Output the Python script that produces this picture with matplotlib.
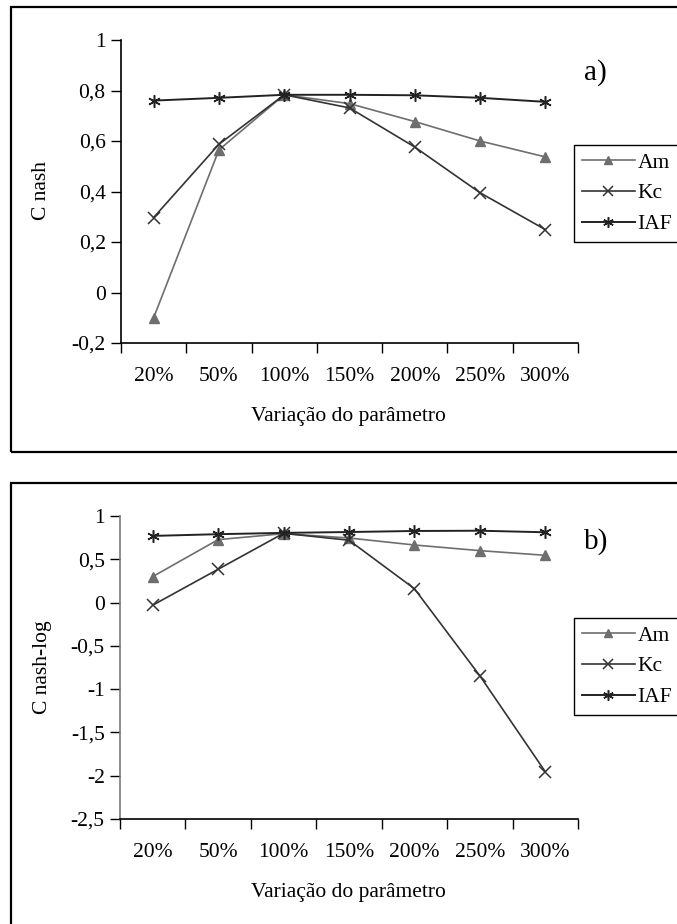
import numpy as np
import matplotlib
matplotlib.use("Agg")
from matplotlib import pyplot as plt
from matplotlib.patches import Rectangle

plt.rcParams['font.family'] = ['Liberation Serif', 'DejaVu Serif']

categorias = ['20%', '50%', '100%', '150%', '200%', '250%', '300%']

# a) C nash
am_a = [-0.10, 0.565, 0.783, 0.748, 0.677, 0.600, 0.537]
kc_a = [0.297, 0.587, 0.783, 0.731, 0.576, 0.395, 0.249]
iaf_a = [0.760, 0.771, 0.783, 0.783, 0.781, 0.771, 0.755]

# b) C nash-log
am_b = [0.30, 0.727, 0.796, 0.746, 0.665, 0.600, 0.546]
kc_b = [-0.03, 0.385, 0.800, 0.720, 0.160, -0.846, -1.954]
iaf_b = [0.770, 0.790, 0.805, 0.815, 0.827, 0.830, 0.812]

W, H = 677, 924
fig = plt.figure(figsize=(W / 100, H / 100), dpi=100)


def fx(px):
    return px / W


def fy(py):
    return 1 - py / H


# molduras dos paineis (cortadas na direita / em baixo)
fig.patches.append(Rectangle((fx(11), fy(452)), fx(700), fy(7) - fy(452),
                             transform=fig.transFigure, fill=False,
                             edgecolor='black', linewidth=1.6))
fig.patches.append(Rectangle((fx(11), fy(960)), fx(700), fy(483) - fy(960),
                             transform=fig.transFigure, fill=False,
                             edgecolor='black', linewidth=1.6))


def painel(left, right, top, bottom, am, kc, iaf, ylim, yticks, ylabel,
           letra, letra_y, xlab_y, ylab_y, leg_top, spine_col):
    ax = fig.add_axes([fx(left), fy(bottom), fx(right) - fx(left),
                       fy(top) - fy(bottom)])
    x = np.arange(len(categorias))
    ax.plot(x, am, color='#6e6e6e', lw=1.2, marker='^', ms=7,
            mfc='#6e6e6e', mec='#6e6e6e', label='Am', clip_on=False)
    ax.plot(x, kc, color='#333333', lw=1.2, marker='x', ms=8, mew=1.1,
            label='Kc', clip_on=False)
    ax.plot(x, iaf, color='#222222', lw=1.4, marker=(6, 2, 0), ms=9,
            mew=1.1, label='IAF', clip_on=False)
    ax.set_xlim(-0.5, len(categorias) - 0.5)
    ax.set_ylim(*ylim)
    ax.set_yticks(yticks)
    ax.set_yticklabels([('%g' % v).replace('.', ',') for v in yticks])
    ax.set_xticks(np.arange(len(categorias) + 1) - 0.5)
    ax.set_xticklabels([])
    ax.set_xticks(x, minor=True)
    ax.set_xticklabels(categorias, minor=True)
    ax.tick_params(axis='x', which='major', length=7, width=1,
                   direction='out')
    ax.tick_params(axis='x', which='minor', length=0, pad=17,
                   labelsize=15.5)
    ax.tick_params(axis='y', length=7, width=1, direction='out', pad=4,
                   labelsize=15.5)
    for s in ['top', 'right']:
        ax.spines[s].set_visible(False)
    ax.spines['left'].set_color(spine_col)
    ax.spines['left'].set_linewidth(1.2)
    ax.spines['bottom'].set_linewidth(1.2)
    fig.text(fx(42), fy(ylab_y), ylabel, rotation=90, ha='center',
             va='center', fontsize=15.5)
    fig.text(fx(348), fy(xlab_y), 'Variação do parâmetro', ha='center',
             va='center', fontsize=15.5)
    fig.text(fx(584), fy(letra_y), letra, ha='left', va='center',
             fontsize=21)
    # a legenda fica cortada na margem direita, como no original
    leg = ax.legend(loc='upper left',
                    bbox_to_anchor=(fx(574), fy(leg_top)),
                    bbox_transform=fig.transFigure, fontsize=15.5,
                    fancybox=False, edgecolor='black', framealpha=1,
                    handlelength=2.5, handletextpad=0.1, borderpad=0.35,
                    labelspacing=0.5, borderaxespad=0, markerscale=0.85)
    leg.get_frame().set_linewidth(1.0)
    return ax


painel(121, 578, 40, 343, am_a, kc_a, iaf_a, (-0.2, 1.0),
       [-0.2, 0, 0.2, 0.4, 0.6, 0.8, 1.0], 'C nash', 'a)', 73, 417, 190,
       145, 'black')
painel(120, 578, 516, 819, am_b, kc_b, iaf_b, (-2.5, 1.0),
       [-2.5, -2, -1.5, -1, -0.5, 0, 0.5, 1.0], 'C nash-log', 'b)', 542,
       893, 667, 618, '#7a7a7a')

fig.savefig('out.png', dpi=100)
